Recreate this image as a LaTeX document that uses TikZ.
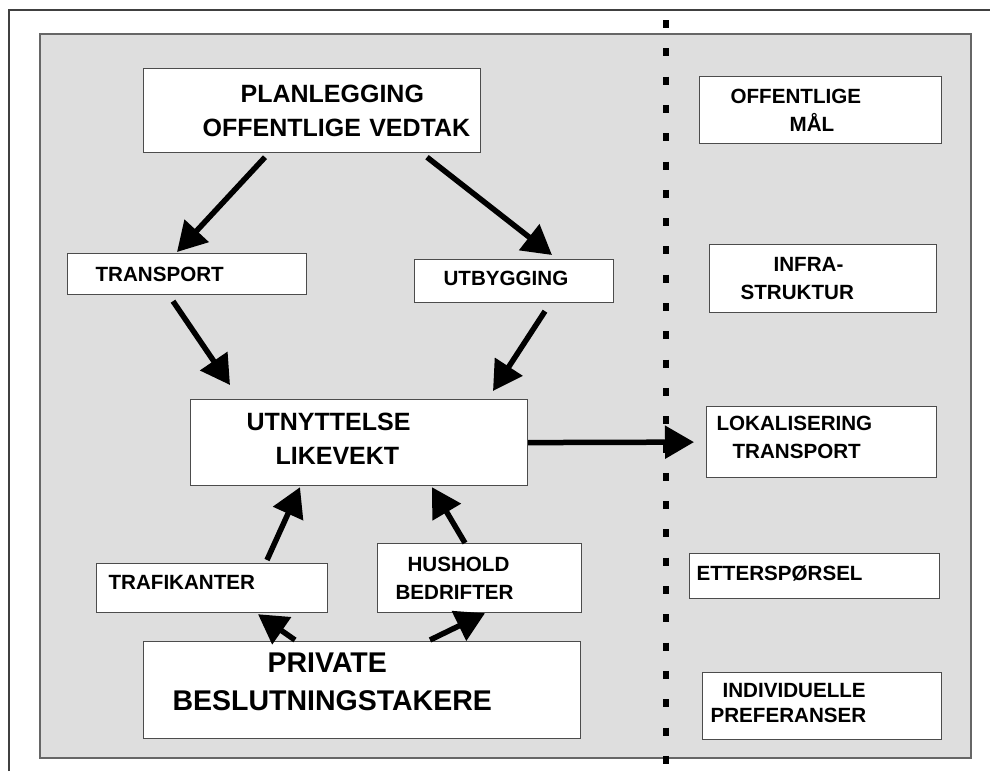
\documentclass[tikz,border=0pt]{standalone}
\usepackage{fontspec}
\setmainfont{Liberation Sans}
\usetikzlibrary{arrows.meta,calc}
% flytter teksten opp i boksen
\newcommand{\planlift}[1]{\rule[-#1]{0pt}{0pt}}

\begin{document}
\begin{tikzpicture}[
  x=1pt, y=-1pt,
  planframe/.style = {line width=2pt, black!75},
  planpanel/.style = {fill=black!13, draw=black!60, line width=1.3pt},
  planbox/.style = {draw=black!70, fill=white, line width=1.2pt, inner sep=0pt,
    anchor=north west, align=left, font=\bfseries\fontsize{20.6}{28}\selectfont},
  planbig/.style = {planbox, font=\bfseries\fontsize{25}{34}\selectfont},
  planhuge/.style = {planbox, font=\bfseries\fontsize{28.5}{38}\selectfont},
  planarrow/.style = {line width=5.5pt, -{Triangle[length=29pt,width=32pt]}},
  plandash/.style = {line width=6pt, dash pattern=on 8pt off 20.3pt}
]
  \useasboundingbox (0,0) rectangle (990,771);
  % ramme og bakgrunn
  \draw[planframe] (9,771) -- (9,10) -- (990,10);
  \draw[planpanel] (40,34) rectangle (971,758);
  % skillelinje
  \draw[plandash] (666,20) -- (666,771);
  % venstre side
  \node[planbig, text width=337pt, minimum height=84pt] (plan) at (143,68)
    {\hspace*{97pt}PLANLEGGING\\\hspace*{59pt}OFFENTLIGE VEDTAK};
  \node[planbox, text width=239pt, minimum height=41pt] (transport) at (67,253)
    {\hspace*{28pt}TRANSPORT};
  \node[planbox, text width=199pt, minimum height=43pt] (utbyg) at (414,259)
    {\hspace*{29pt}UTBYGGING\planlift{5pt}};
  \node[planbig, text width=337pt, minimum height=86pt] (utnytt) at (190,399)
    {\hspace*{56pt}UTNYTTELSE\\\hspace*{85pt}LIKEVEKT\planlift{7pt}};
  \node[planbox, text width=231pt, minimum height=49pt] (trafik) at (96,563)
    {\hspace*{12pt}TRAFIKANTER\planlift{11pt}};
  \node[planbox, text width=204pt, minimum height=69pt] (hushold) at (377,543)
    {\hspace*{30pt}HUSHOLD\\\hspace*{18pt}BEDRIFTER};
  \node[planhuge, text width=437pt, minimum height=97pt] (private) at (143,641)
    {\hspace*{124pt}PRIVATE\\\hspace*{29pt}BESLUTNINGSTAKERE\planlift{16pt}};
  % hoyre side
  \node[planbox, text width=242pt, minimum height=67pt] (offmal) at (699,76)
    {\hspace*{31pt}OFFENTLIGE\\\hspace*{90pt}MÅL};
  \node[planbox, text width=227pt, minimum height=68pt] (infra) at (709,244)
    {\hspace*{64pt}INFRA-\\\hspace*{31pt}STRUKTUR};
  \node[planbox, text width=230pt, minimum height=71pt] (lokal) at (706,406)
    {\hspace*{10pt}LOKALISERING\\\hspace*{26pt}TRANSPORT\planlift{9pt}};
  \node[planbox, text width=250pt, minimum height=45pt] (etter) at (689,553)
    {\hspace*{7pt}ETTERSPØRSEL\planlift{7pt}};
  \node[planbox, text width=239pt, minimum height=67pt] (indiv) at (702,672)
    {\hspace*{20pt}INDIVIDUELLE\\[-3pt]\hspace*{8pt}PREFERANSER\planlift{6pt}};
  % piler
  \draw[planarrow] ($(plan.south west)+(122,4)$) -- ($(transport.north west)+(110,-1)$);
  \draw[planarrow] ($(plan.south west)+(284,4)$) -- ($(utbyg.north west)+(138,-4)$);
  \draw[planarrow] ($(transport.south west)+(106,6)$) -- ($(utnytt.north west)+(40,-14)$);
  \draw[planarrow] ($(utbyg.south west)+(131,8)$) -- ($(utnytt.north west)+(303,-8)$);
  \draw[planarrow] (utnytt.east) -- ($(lokal.west)+(-12,0)$);
  \draw[planarrow] ($(trafik.north west)+(171,-3)$) -- ($(utnytt.south west)+(110,1)$);
  \draw[planarrow] ($(hushold.north west)+(88,0)$) -- ($(utnytt.south west)+(242,1)$);
  \draw[planarrow] ($(private.north west)+(152,-1)$) -- ($(trafik.south west)+(162,1)$);
  \draw[planarrow] ($(private.north west)+(287,-1)$) -- ($(hushold.south west)+(108,0)$);
\end{tikzpicture}
\end{document}
